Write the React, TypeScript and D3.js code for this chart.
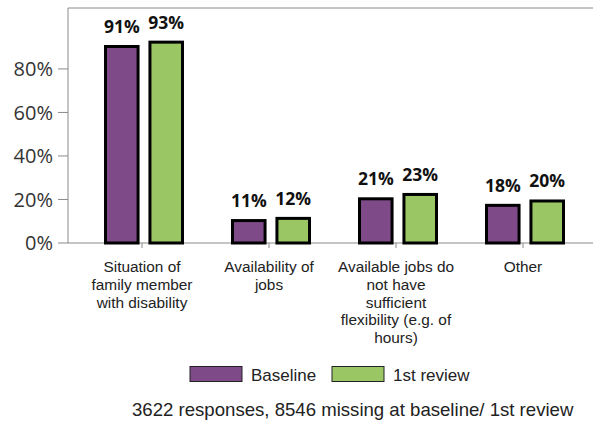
import React from 'react'
import * as d3 from 'd3'

const categories = [
    ['Situation of', 'family member', 'with disability'],
    ['Availability of', 'jobs'],
    ['Available jobs do', 'not have', 'sufficient', 'flexibility (e.g. of', 'hours)'],
    ['Other'],
]
const baseline = [91, 11, 21, 18]
const firstReview = [93, 12, 23, 20]
const yTicks = [0, 20, 40, 60, 80]
const seriesNames = ['Baseline', '1st review']
const colors = ['#7e4a88', '#9bc664']

const App = () => {
    // plot area
    const left = 68, top = 8, bottom = 243, right = 600

    const y = d3.scaleLinear().domain([0, 108]).range([bottom, top])
    const x = d3.scaleBand<number>()
        .domain(d3.range(categories.length))
        .range([80.5, 588.5])
    const sub = d3.scaleBand<number>()
        .domain([0, 1])
        .range([0, 80])
        .paddingInner(0.2)

    const series = [baseline, firstReview]

    return (
        <svg width={593} height={421} style={{ position: 'absolute', left: 0, top: 0 }}>
            <rect width={593} height={421} fill="#fff" />
            {/* frame */}
            <line x1={left} x2={right} y1={top} y2={top} stroke="#8a8a8a" />
            <line x1={left} x2={left} y1={top} y2={bottom} stroke="#8a8a8a" />
            <line x1={left} x2={right} y1={bottom} y2={bottom} stroke="#8a8a8a" />

            {/* y axis */}
            {yTicks.map(t => (
                <g key={t}>
                    <line x1={58} x2={left} y1={y(t)} y2={y(t)} stroke="#8a8a8a" />
                    <text x={53} y={y(t)} dy="0.36em" textAnchor="end"
                        fontFamily="'Open Sans', sans-serif" fontSize={20} fill="#333">{t}%</text>
                </g>
            ))}

            {/* x axis */}
            {categories.map((lines, i) => {
                const cx = (x(i) as number) + x.bandwidth() / 2 - 2
                return (
                    <g key={i}>
                        <line x1={cx} x2={cx} y1={bottom} y2={bottom + 5} stroke="#8a8a8a" />
                        <text textAnchor="middle" fontFamily="'Liberation Sans', Arial, sans-serif"
                            fontSize={15.4} fill="#222">
                            {lines.map((l, j) => (
                                <tspan key={j} x={cx} y={272 + j * 17.8}>{l}</tspan>
                            ))}
                        </text>
                    </g>
                )
            })}

            {/* bars */}
            {series.map((vals, s) => vals.map((v, i) => {
                const bx = (x(i) as number) + x.bandwidth() / 2 - 40 + (sub(s) as number)
                const w = sub.bandwidth()
                return (
                    <g key={`${s}-${i}`}>
                        <rect x={bx + 1.5} y={y(v) + 1.5} width={w - 3} height={bottom - y(v) - 1.5}
                            fill={colors[s]} stroke="#000" strokeWidth={3} />
                        <text x={bx + w / 2} y={y(v) - 12} textAnchor="middle"
                            fontFamily="'Open Sans', sans-serif" fontWeight="bold" fontSize={17.5} fill="#111">{v}%</text>
                    </g>
                )
            }))}

            {/* legend */}
            {seriesNames.map((n, s) => {
                const lx = s === 0 ? 190 : 332
                return (
                    <g key={n}>
                        <rect x={lx} y={366.5} width={52} height={15} fill={colors[s]} stroke="#222" strokeWidth={1} />
                        <text x={lx + 61} y={381} fontFamily="'Liberation Sans', Arial, sans-serif"
                            fontSize={17} fill="#222">{n}</text>
                    </g>
                )
            })}

            <text x={132} y={416} fontFamily="'Liberation Sans', Arial, sans-serif" fontSize={18.6} fill="#222">
                3622 responses, 8546 missing at baseline/ 1st review
            </text>
        </svg>
    )
}

export default App
